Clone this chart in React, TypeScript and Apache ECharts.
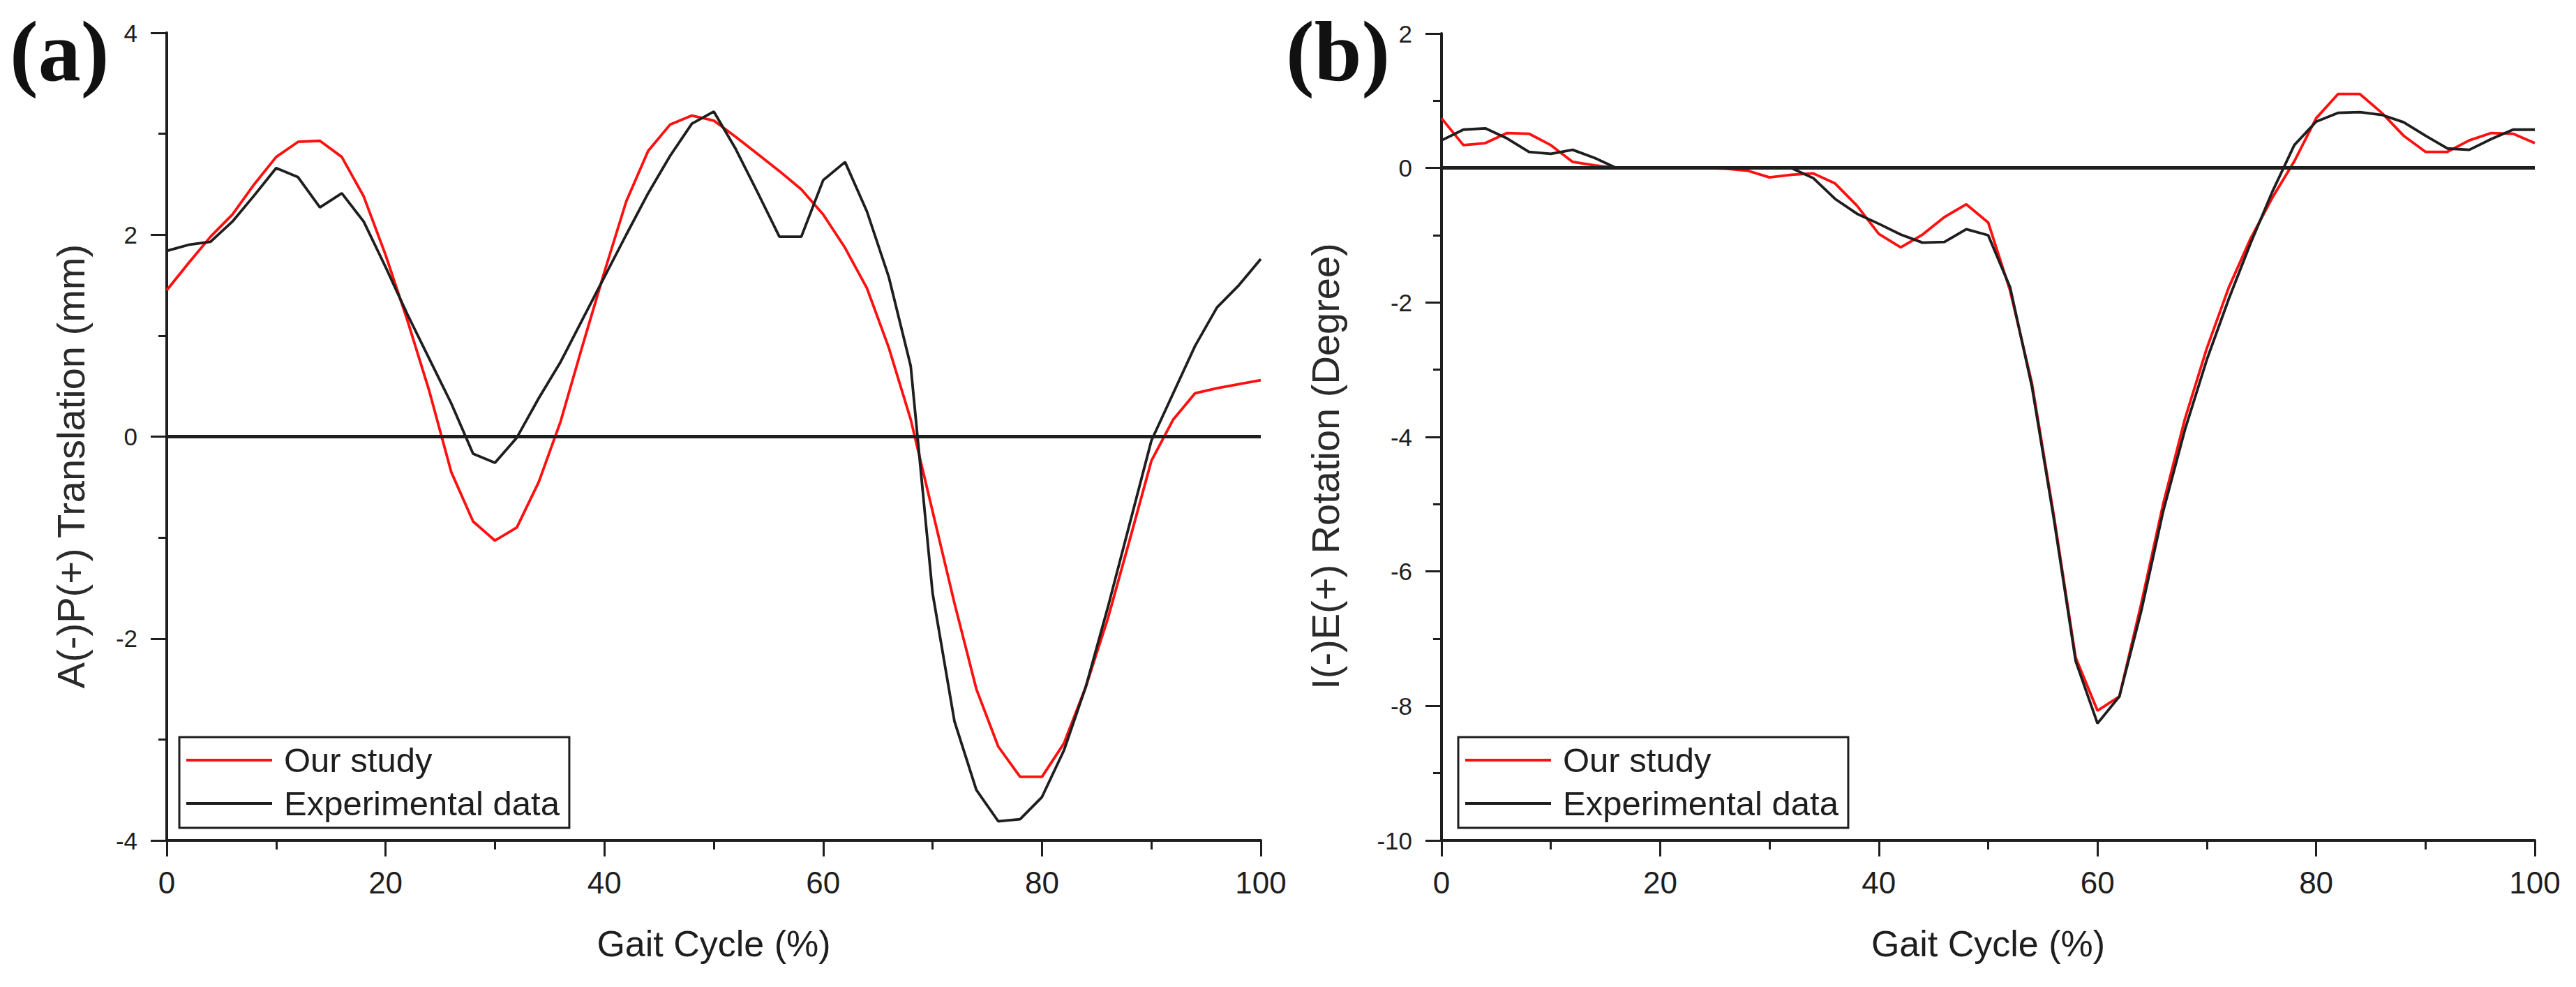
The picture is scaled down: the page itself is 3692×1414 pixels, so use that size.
import React, { useEffect, useRef } from "react";
import * as echarts from "echarts";

// ---------- data ----------
const gaitCycle = [
  0, 2, 4, 6, 8, 10, 12, 14, 16, 18, 20, 22, 24, 26, 28, 30, 32, 34, 36, 38, 40, 42, 44, 46, 48, 50,
  52, 54, 56, 58, 60, 62, 64, 66, 68, 70, 72, 74, 76, 78, 80, 82, 84, 86, 88, 90, 92, 94, 96, 98, 100,
];

// (a) A(-)P(+) translation (mm)
const apOurStudy = [
  1.45, 1.72, 1.98, 2.2, 2.5, 2.77, 2.92, 2.93, 2.77, 2.38, 1.8, 1.15, 0.45, -0.35, -0.84, -1.03, -0.9,
  -0.45, 0.15, 0.9, 1.63, 2.33, 2.83, 3.09, 3.18, 3.13, 2.97, 2.8, 2.63, 2.45, 2.2, 1.87, 1.47, 0.88,
  0.17, -0.74, -1.65, -2.5, -3.07, -3.37, -3.37, -3.04, -2.48, -1.81, -1.03, -0.24, 0.17, 0.43, 0.48,
  0.52, 0.56,
];
const apExperimental = [
  1.84, 1.9, 1.93, 2.13, 2.39, 2.66, 2.57, 2.27, 2.41, 2.13, 1.68, 1.21, 0.77, 0.33, -0.17, -0.26,
  -0.01, 0.38, 0.74, 1.16, 1.58, 2.0, 2.41, 2.78, 3.1, 3.22, 2.85, 2.42, 1.98, 1.98, 2.54, 2.72, 2.23,
  1.58, 0.7, -1.55, -2.82, -3.5, -3.81, -3.79, -3.57, -3.11, -2.48, -1.7, -0.87, -0.04, 0.43, 0.9,
  1.28, 1.5, 1.76,
];

// (b) I(-)E(+) rotation (degree)
const ieOurStudy = [
  0.74, 0.34, 0.37, 0.52, 0.51, 0.34, 0.09, 0.04, 0.0, 0, 0, 0, 0, -0.01, -0.04, -0.14, -0.1, -0.08,
  -0.23, -0.56, -0.98, -1.18, -0.99, -0.73, -0.54, -0.81, -1.82, -3.2, -5.16, -7.28, -8.07, -7.86,
  -6.48, -5.0, -3.73, -2.68, -1.78, -1.05, -0.44, 0.1, 0.74, 1.1, 1.1, 0.82, 0.48, 0.24, 0.24, 0.41,
  0.52, 0.51, 0.37,
];
const ieExperimental = [
  0.41, 0.57, 0.59, 0.44, 0.24, 0.21, 0.27, 0.15, 0.0, 0, 0, 0, 0, 0, 0, 0, 0.0, -0.15, -0.46, -0.68,
  -0.83, -0.99, -1.11, -1.1, -0.91, -1.0, -1.77, -3.25, -5.21, -7.33, -8.26, -7.86, -6.59, -5.11,
  -3.89, -2.85, -1.95, -1.12, -0.35, 0.34, 0.69, 0.82, 0.83, 0.79, 0.68, 0.48, 0.29, 0.27, 0.43, 0.57,
  0.57,
];

const seriesNames = ["Our study", "Experimental data"];
const panelLabels = ["(a)", "(b)"];
const yTitles = ["A(-)P(+) Translation (mm)", "I(-)E(+) Rotation (Degree)"];
const xTitle = "Gait Cycle (%)";
const yRanges = [
  { min: -4, max: 4 },
  { min: -10, max: 2 },
];

const FONT = '"Liberation Sans", Arial, Helvetica, sans-serif';
const SERIF = '"Liberation Serif", "Times New Roman", serif';
const INK = "#1e1e1e";
const RED = "#ff1010";

const pair = (ys: number[]) => gaitCycle.map((x, i) => [x, ys[i]]);

function makeXAxis(gridIndex: number) {
  return {
    type: "value",
    gridIndex,
    min: 0,
    max: 100,
    interval: 20,
    name: xTitle,
    nameLocation: "middle",
    nameGap: 122,
    nameTextStyle: { fontSize: 52, fontFamily: FONT, color: INK },
    axisLine: { show: true, onZero: false, lineStyle: { color: INK, width: 4 } },
    axisTick: { show: true, inside: false, length: 23, lineStyle: { color: INK, width: 3 } },
    minorTick: { show: true, splitNumber: 2, length: 13, lineStyle: { color: INK, width: 3 } },
    splitLine: { show: false },
    minorSplitLine: { show: false },
    axisLabel: { fontSize: 44, fontFamily: FONT, color: INK, margin: 38 },
  };
}

function makeYAxis(gridIndex: number) {
  return {
    type: "value",
    gridIndex,
    min: yRanges[gridIndex].min,
    max: yRanges[gridIndex].max,
    interval: 2,
    axisLine: { show: true, onZero: false, lineStyle: { color: INK, width: 4 } },
    axisTick: { show: true, inside: false, length: 23, lineStyle: { color: INK, width: 3 } },
    minorTick: { show: true, splitNumber: 2, length: 12, lineStyle: { color: INK, width: 3 } },
    splitLine: { show: false },
    minorSplitLine: { show: false },
    axisLabel: { fontSize: 35, fontFamily: FONT, color: INK, margin: 42 },
  };
}

function makeSeries(name: string, data: number[], idx: number, color: string, zero: boolean) {
  const s: any = {
    type: "line",
    name,
    xAxisIndex: idx,
    yAxisIndex: idx,
    data: pair(data),
    symbol: "none",
    showSymbol: false,
    smooth: false,
    color,
    itemStyle: { color },
    lineStyle: { color, width: 3.8 },
    emphasis: { disabled: true },
    z: 2,
  };
  if (zero) {
    s.markLine = {
      silent: true,
      symbol: "none",
      z: 5,
      label: { show: false },
      lineStyle: { color: INK, width: 5, type: "solid" },
      data: [{ yAxis: 0 }],
    };
  }
  return s;
}

function makeLegend(left: number) {
  return {
    orient: "vertical",
    left,
    top: 1056,
    data: seriesNames.map((n) => ({ name: n, icon: "rect" })),
    selectedMode: false,
    itemWidth: 123,
    itemHeight: 4,
    itemGap: 10,
    itemStyle: { borderWidth: 0 },
    lineStyle: { width: 0 },
    padding: [7, 14, 9, 10],
    borderColor: INK,
    borderWidth: 3,
    backgroundColor: "#ffffff",
    textStyle: { fontSize: 49, fontFamily: FONT, color: INK, lineHeight: 52, padding: [0, 0, 0, 12] },
  };
}

export default function App() {
  const ref = useRef<HTMLDivElement>(null);

  useEffect(() => {
    document.body.style.margin = "0";
    document.body.style.overflow = "hidden";
    const chart = echarts.init(ref.current as HTMLDivElement, null, { renderer: "svg" });
    const option: any = {
      animation: false,
      backgroundColor: "#ffffff",
      grid: [
        { left: 239, top: 47, width: 1568, height: 1157, containLabel: false },
        { left: 2066, top: 48, width: 1567, height: 1156, containLabel: false },
      ],
      xAxis: [makeXAxis(0), makeXAxis(1)],
      yAxis: [makeYAxis(0), makeYAxis(1)],
      legend: [makeLegend(257), makeLegend(2090)],
      series: [
        makeSeries(seriesNames[0], apOurStudy, 0, RED, false),
        makeSeries(seriesNames[1], apExperimental, 0, INK, true),
        makeSeries(seriesNames[0], ieOurStudy, 1, RED, false),
        makeSeries(seriesNames[1], ieExperimental, 1, INK, true),
      ],
      graphic: [
        {
          type: "text",
          x: 14,
          y: 12,
          style: { text: panelLabels[0], font: `bold 122px ${SERIF}`, fill: "#111" },
        },
        {
          type: "text",
          x: 1843,
          y: 12,
          style: { text: panelLabels[1], font: `bold 122px ${SERIF}`, fill: "#111" },
        },
        {
          type: "text",
          x: 101,
          y: 668,
          rotation: Math.PI / 2,
          style: {
            text: yTitles[0],
            font: `56px ${FONT}`,
            fill: "#2a2a2a",
            align: "center",
            verticalAlign: "middle",
          },
        },
        {
          type: "text",
          x: 1899,
          y: 668,
          rotation: Math.PI / 2,
          style: {
            text: yTitles[1],
            font: `56px ${FONT}`,
            fill: "#2a2a2a",
            align: "center",
            verticalAlign: "middle",
          },
        },
      ],
    };
    chart.setOption(option);
    return () => chart.dispose();
  }, []);

  return (
    <div
      ref={ref}
      style={{ position: "absolute", left: 0, top: 0, width: 3692, height: 1414, background: "#fff" }}
    />
  );
}
